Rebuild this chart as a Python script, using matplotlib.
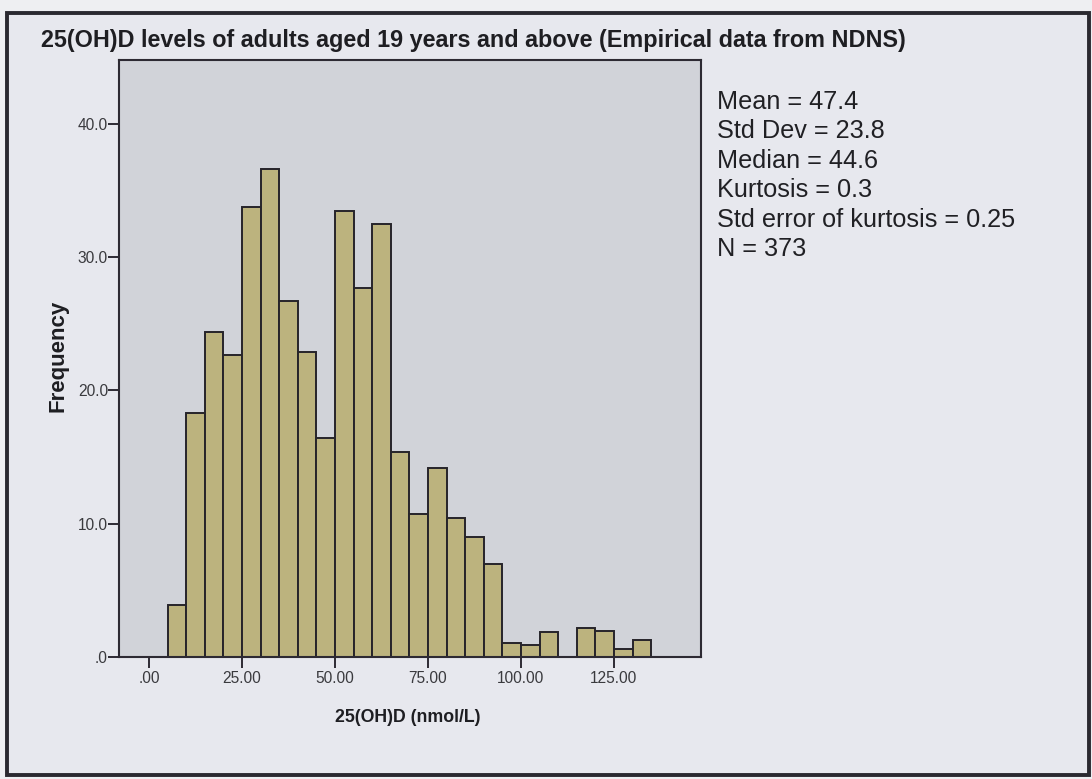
import matplotlib
matplotlib.use('Agg')
import matplotlib.pyplot as plt
from matplotlib.patches import Rectangle

plt.rcParams['font.family'] = ['Liberation Sans', 'DejaVu Sans']

# 25(OH)D histogram, 5 nmol/L bins (left edges) and weighted frequencies
bin_left = [5, 10, 15, 20, 25, 30, 35, 40, 45, 50, 55, 60, 65,
            70, 75, 80, 85, 90, 95, 100, 105, 110, 115, 120, 125, 130]
freq = [3.9, 18.3, 24.4, 22.7, 33.8, 36.6, 26.7, 22.9, 16.4, 33.5, 27.7, 32.5, 15.4,
        10.7, 14.2, 10.4, 9.0, 7.0, 1.05, 0.9, 1.9, 0.0, 2.2, 1.95, 0.6, 1.3]
bin_width = 5

xticks = [0, 25, 50, 75, 100, 125]
xtick_labels = ['.00', '25.00', '50.00', '75.00', '100.00', '125.00']
yticks = [0, 10, 20, 30, 40]
ytick_labels = ['.0', '10.0', '20.0', '30.0', '40.0']

stats = ['Mean = 47.4', 'Std Dev = 23.8', 'Median = 44.6', 'Kurtosis = 0.3',
         'Std error of kurtosis = 0.25', 'N = 373']

W, H = 1092, 779
fig = plt.figure(figsize=(W / 100, H / 100), dpi=100, facecolor='#eeeff2')

def fx(px):
    return px / W

def fy(py):
    return 1 - py / H

# outer frame
fig.add_artist(Rectangle((fx(7), fy(775)), fx(1089) - fx(7), fy(13) - fy(775),
                         transform=fig.transFigure, facecolor='#e7e8ee',
                         edgecolor='#2a2930', linewidth=2.8, zorder=0))

ax = fig.add_axes([fx(119), fy(657), fx(701) - fx(119), fy(60) - fy(657)])
ax.set_facecolor('#d1d3d9')
ax.bar(bin_left, freq, width=bin_width, align='edge', color='#bcb37e',
       edgecolor='#26242a', linewidth=1.4)

ax.set_xlim(-8.06, 148.4)
ax.set_ylim(0, 44.8)
ax.set_xticks(xticks)
ax.set_xticklabels(xtick_labels)
ax.set_yticks(yticks)
ax.set_yticklabels(ytick_labels)
ax.tick_params(axis='both', direction='out', length=8, width=1.4, color='#2d2a33',
               labelsize=11.2, labelcolor='#3a3a3e')
ax.tick_params(axis='y', pad=0)
ax.tick_params(axis='x', pad=2)
for sp in ax.spines.values():
    sp.set_color('#2d2a33')
    sp.set_linewidth(1.5)

fig.text(fx(41), fy(40), '25(OH)D levels of adults aged 19 years and above (Empirical data from NDNS)',
         fontsize=16.8, fontweight='bold', color='#1e1e22', va='center', ha='left')
fig.text(fx(408), fy(718), '25(OH)D (nmol/L)', fontsize=12.8, fontweight='bold',
         color='#1e1e22', va='center', ha='center')
fig.text(fx(58), fy(356), 'Frequency', fontsize=16, fontweight='bold', rotation=90,
         color='#1e1e22', va='center', ha='center')

for i, line in enumerate(stats):
    fig.text(fx(717), fy(102 + i * 29.4), line, fontsize=18.2, color='#202024',
             va='center', ha='left')

fig.savefig('out.png', dpi=100, facecolor=fig.get_facecolor())
